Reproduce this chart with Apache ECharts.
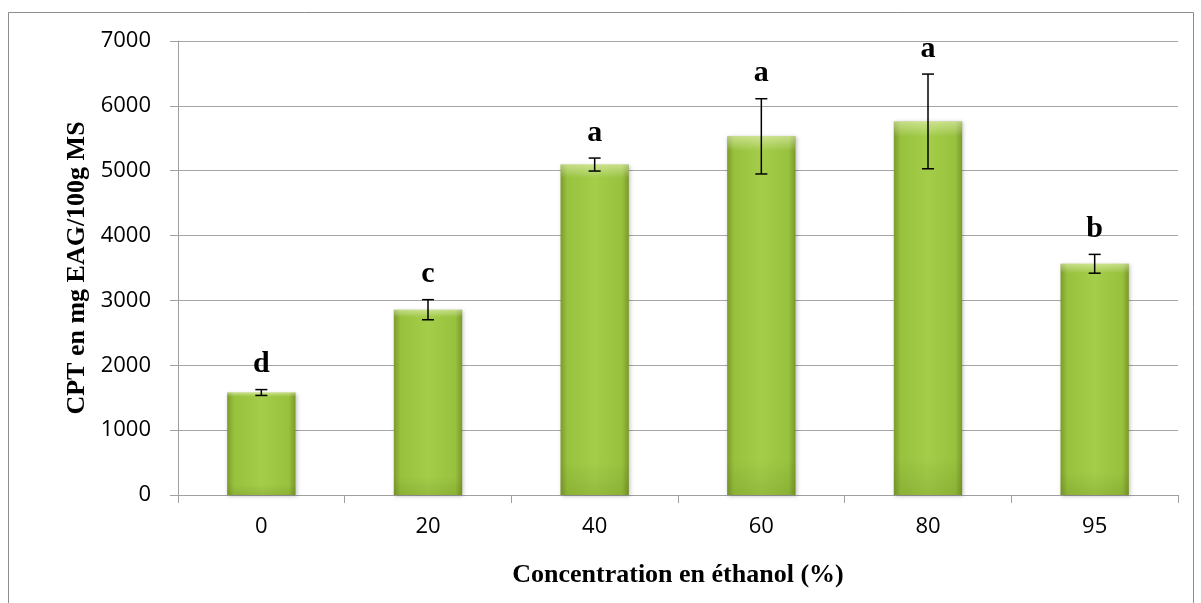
<!DOCTYPE html>
<html>
<head>
<meta charset="utf-8">
<script src="https://cdn.jsdelivr.net/npm/echarts@6/dist/echarts.min.js"></script>
<style>
  html, body { margin: 0; padding: 0; background: #fff; }
  #chart { width: 1201px; height: 603px; }
</style>
</head>
<body>
<div id="chart"></div>
<script>
var categories = ['0', '20', '40', '60', '80', '95'];
var means = [1580, 2857, 5095, 5530, 5760, 3565];
var errors = [45, 155, 100, 580, 730, 145];
var letters = ['d', 'c', 'a', 'a', 'a', 'b'];
var yTicks = [0, 1000, 2000, 3000, 4000, 5000, 6000, 7000];

let mychart = echarts.init(document.getElementById('chart'));

var barFill = new echarts.graphic.LinearGradient(0, 0, 1, 0, [
	{ offset: 0, color: '#7c9b2c' },
	{ offset: 0.1, color: '#98c23e' },
	{ offset: 0.5, color: '#a4cd4a' },
	{ offset: 0.9, color: '#98c23e' },
	{ offset: 1, color: '#7a992b' }
]);

var barShade = new echarts.graphic.LinearGradient(0, 0, 0, 1, [
	{ offset: 0, color: 'rgba(255,255,220,0.45)' },
	{ offset: 0.04, color: 'rgba(255,255,255,0)' },
	{ offset: 0.9, color: 'rgba(60,80,0,0)' },
	{ offset: 1, color: 'rgba(60,80,0,0.15)' }
]);

function renderError(params, api) {
	var i = api.value(0);
	var m = api.value(1);
	var e = api.value(2);
	var top = api.coord([i, m + e]);
	var bot = api.coord([i, m - e]);
	var cap = 6;
	var style = { stroke: '#000', lineWidth: 1.5 };
	return {
		type: 'group',
		children: [
			{ type: 'line', shape: { x1: top[0], y1: top[1], x2: bot[0], y2: bot[1] }, style: style },
			{ type: 'line', shape: { x1: top[0] - cap, y1: top[1], x2: top[0] + cap, y2: top[1] }, style: style },
			{ type: 'line', shape: { x1: bot[0] - cap, y1: bot[1], x2: bot[0] + cap, y2: bot[1] }, style: style },
			{
				type: 'text',
				x: top[0],
				y: top[1] - 10,
				style: {
					text: letters[i],
					fill: '#000',
					font: 'bold 30px "Liberation Serif", "Times New Roman", serif',
					align: 'center',
					verticalAlign: 'bottom'
				}
			}
		]
	};
}

var errData = [];
for (var i = 0; i < means.length; i++) {
	errData.push([i, means[i], errors[i]]);
}

let option = {
	animation: false,
	graphic: [{
		type: 'rect',
		shape: { x: 8.5, y: 12.5, width: 1185, height: 600 },
		style: { fill: 'none', stroke: '#8c8c8c', lineWidth: 1 },
		silent: true
	}],
	grid: {
		left: 178,
		right: 23,
		top: 41,
		bottom: 108
	},
	xAxis: {
		type: 'category',
		data: categories,
		name: 'Concentration en éthanol (%)',
		nameLocation: 'middle',
		nameGap: 67,
		nameTextStyle: {
			color: '#000',
			fontFamily: '"Liberation Serif", "Times New Roman", serif',
			fontWeight: 'bold',
			fontSize: 26
		},
		axisLine: { lineStyle: { color: '#a0a0a0', width: 1 } },
		axisTick: { show: true, length: 8, lineStyle: { color: '#a0a0a0' } },
		axisLabel: {
			color: '#000',
			fontFamily: '"Open Sans", sans-serif',
			fontSize: 22,
			margin: 21
		}
	},
	yAxis: {
		type: 'value',
		min: 0,
		max: 7000,
		interval: 1000,
		name: 'CPT en mg EAG/100g MS',
		nameLocation: 'middle',
		nameGap: 86,
		nameTextStyle: {
			color: '#000',
			fontFamily: '"Liberation Serif", "Times New Roman", serif',
			fontWeight: 'bold',
			fontSize: 26
		},
		axisLine: { show: true, lineStyle: { color: '#a0a0a0', width: 1 } },
		axisTick: { show: true, length: 8, lineStyle: { color: '#a0a0a0' } },
		axisLabel: {
			color: '#000',
			fontFamily: '"Open Sans", sans-serif',
			fontSize: 22,
			margin: 27,
			formatter: function(v) { return yTicks.indexOf(v) >= 0 ? String(v) : ''; }
		},
		splitLine: { lineStyle: { color: '#a6a6a6', width: 1 } }
	},
	series: [{
			type: 'bar',
			data: means,
			barWidth: '41%',
			itemStyle: {
				color: barFill,
				shadowColor: 'rgba(0,0,0,0.25)',
				shadowBlur: 4,
				shadowOffsetX: 1,
				shadowOffsetY: 1
			}
		},
		{
			type: 'bar',
			data: means,
			barWidth: '41%',
			barGap: '-100%',
			itemStyle: { color: barShade }
		},
		{
			type: 'custom',
			data: errData,
			renderItem: renderError,
			z: 10
		}
	]
};

mychart.setOption(option);
</script>
</body>
</html>
